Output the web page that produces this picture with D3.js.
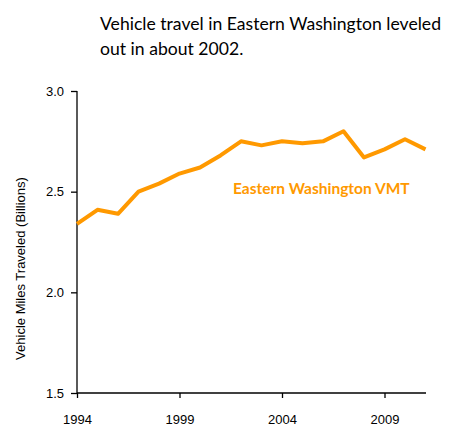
<!DOCTYPE html>
<html>
<head>
<meta charset="utf-8">
<script src="https://cdn.jsdelivr.net/npm/d3@7"></script>
<style>
  body { margin: 0; background: #fff; }
</style>
</head>
<body>
<div id="chart"></div>
<script>
// Data
const years = [1994, 1995, 1996, 1997, 1998, 1999, 2000, 2001, 2002, 2003,
               2004, 2005, 2006, 2007, 2008, 2009, 2010, 2011];
const vmt = [2.34, 2.41, 2.39, 2.50, 2.54, 2.59, 2.62, 2.68, 2.75, 2.73,
             2.75, 2.74, 2.75, 2.80, 2.67, 2.71, 2.76, 2.71];
const xTicks = [1994, 1999, 2004, 2009];
const yTicks = [1.5, 2.0, 2.5, 3.0];
const titleLines = ["Vehicle travel in Eastern Washington leveled", "out in about 2002."];

const width = 452;
const height = 437;
const margin = { top: 91, right: 26, bottom: 44, left: 77 };

const svg = d3.select('#chart')
    .append('svg')
    .attr('width', width)
    .attr('height', height);

const x = d3.scaleLinear()
    .domain([1994, 2011])
    .range([margin.left, 425.5]);

const y = d3.scaleLinear()
    .domain([1.5, 3.0])
    .range([height - margin.bottom, margin.top]);

// title
svg.append('g')
    .selectAll('text')
    .data(titleLines)
    .join('text')
    .attr('x', 100)
    .attr('y', (d, i) => 30 + i * 25)
    .attr('font-family', 'Lato, sans-serif')
    .attr('font-size', 17.6)
    .attr('fill', '#000')
    .text(d => d);

// axes
const xAxis = svg.append('g')
    .attr('transform', `translate(0,${y(1.5)})`)
    .call(d3.axisBottom(x).tickValues(xTicks).tickFormat(d3.format('d')).tickSize(5).tickPadding(17));
xAxis.select('.domain').attr('d', `M${x(1994)},0H${x(2011) + 0.5}`);

const yAxis = svg.append('g')
    .attr('transform', `translate(${margin.left},0)`)
    .call(d3.axisLeft(y).tickValues(yTicks).tickFormat(d3.format('.1f')).tickSize(6).tickPadding(7));
yAxis.select('.domain').attr('d', `M0,${y(3.0)}V${y(1.5)}`);

svg.selectAll('g.tick text')
    .style('font-family', '"Liberation Sans", Arial, sans-serif')
    .style('font-size', '13px')
    .attr('fill', '#000');
svg.selectAll('.domain, .tick line')
    .attr('stroke', '#000')
    .attr('stroke-width', 1.3);

// y label
svg.append('text')
    .attr('transform', `translate(25,268.5) rotate(-90)`)
    .attr('text-anchor', 'middle')
    .attr('font-family', '"Liberation Sans", Arial, sans-serif')
    .attr('font-size', 13)
    .attr('fill', '#000')
    .text('Vehicle Miles Traveled (Billions)');

// line
const line = d3.line()
    .x((d, i) => x(years[i]))
    .y(d => y(d));

svg.append('path')
    .datum(vmt)
    .attr('fill', 'none')
    .attr('stroke', '#FF9900')
    .attr('stroke-width', 4)
    .attr('stroke-linejoin', 'round')
    .attr('d', line);

// series label
svg.append('text')
    .attr('x', 233)
    .attr('y', 194)
    .attr('font-family', 'Lato, sans-serif')
    .attr('font-weight', 'bold')
    .attr('font-size', 15.5)
    .attr('fill', '#FF9900')
    .text('Eastern Washington VMT');
</script>
</body>
</html>
